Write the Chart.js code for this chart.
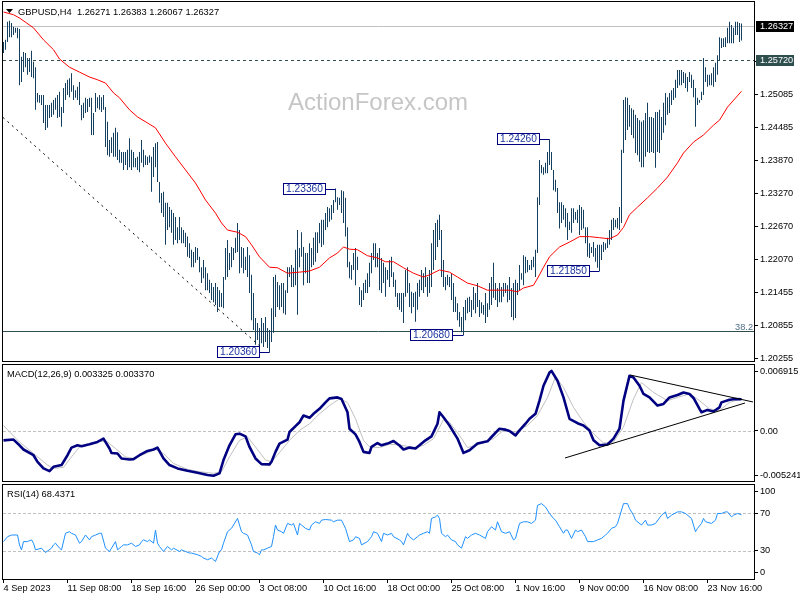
<!DOCTYPE html>
<html><head><meta charset="utf-8">
<script src="https://cdn.jsdelivr.net/npm/chart.js@4.4.0/dist/chart.umd.min.js"></script>
<style>
html,body{margin:0;padding:0;background:#fff;}
#wrap{position:relative;width:800px;height:600px;overflow:hidden;background:#fff;}
canvas{position:absolute;left:0;top:0;}
</style></head><body>
<div id="wrap">
<canvas id="c1" width="800" height="600"></canvas>
<canvas id="c2" width="800" height="600"></canvas>
<canvas id="c3" width="800" height="600"></canvas>
</div>
<script>
// ---------------- DATA ----------------
const symbolTitle = 'GBPUSD,H4  1.26271 1.26383 1.26067 1.26327';
const macdTitle = 'MACD(12,26,9) 0.003325 0.003370';
const rsiTitle = 'RSI(14) 68.4371';
const watermark = 'ActionForex.com';

const barHigh = [1.2604,1.2608,1.2641,1.2643,1.2639,1.2632,1.2630,1.2630,1.2628,1.2577,
1.2586,1.2584,1.2575,1.2575,1.2588,1.2568,1.2558,1.2511,1.2507,1.2507,
1.2507,1.2489,1.2489,1.2489,1.2493,1.2498,1.2502,1.2507,1.2513,1.2485,
1.2520,1.2529,1.2535,1.2538,1.2547,1.2525,1.2516,1.2522,1.2531,1.2489,
1.2493,1.2502,1.2500,1.2502,1.2502,1.2474,1.2511,1.2503,1.2507,1.2503,
1.2507,1.2485,1.2458,1.2425,1.2430,1.2438,1.2447,1.2439,1.2407,1.2403,
1.2403,1.2403,1.2407,1.2428,1.2407,1.2403,1.2392,1.2394,1.2403,1.2425,
1.2407,1.2397,1.2394,1.2397,1.2394,1.2412,1.2419,1.2421,1.2348,1.2328,
1.2330,1.2310,1.2310,1.2302,1.2297,1.2291,1.2284,1.2265,1.2284,1.2265,
1.2260,1.2255,1.2248,1.2236,1.2224,1.2220,1.2229,1.2227,1.2211,1.2192,
1.2205,1.2192,1.2181,1.2169,1.2163,1.2156,1.2163,1.2156,1.2150,1.2145,
1.2174,1.2227,1.2242,1.2218,1.2229,1.2227,1.2246,1.2273,1.2260,1.2229,
1.2227,1.2211,1.2229,1.2214,1.2178,1.2145,1.2099,1.2090,1.2081,1.2099,
1.2090,1.2101,1.2081,1.2077,1.2117,1.2174,1.2178,1.2165,1.2159,1.2163,
1.2163,1.2150,1.2192,1.2192,1.2196,1.2191,1.2224,1.2260,1.2227,1.2256,
1.2229,1.2218,1.2218,1.2236,1.2227,1.2246,1.2256,1.2256,1.2273,1.2279,
1.2279,1.2291,1.2302,1.2300,1.2306,1.2315,1.2336,1.2320,1.2319,1.2333,
1.2331,1.2319,1.2265,1.2202,1.2196,1.2218,1.2227,1.2211,1.2156,1.2150,
1.2163,1.2169,1.2181,1.2200,1.2218,1.2236,1.2236,1.2218,1.2227,1.2209,
1.2200,1.2192,1.2187,1.2205,1.2211,1.2183,1.2169,1.2145,1.2145,1.2145,
1.2145,1.2187,1.2192,1.2163,1.2147,1.2145,1.2147,1.2163,1.2169,1.2187,
1.2181,1.2192,1.2174,1.2187,1.2236,1.2260,1.2273,1.2279,1.2288,1.2260,
1.2205,1.2174,1.2178,1.2174,1.2181,1.2163,1.2138,1.2126,1.2110,1.2101,
1.2119,1.2132,1.2136,1.2138,1.2132,1.2156,1.2145,1.2163,1.2132,1.2128,
1.2123,1.2145,1.2126,1.2163,1.2174,1.2200,1.2163,1.2154,1.2163,1.2156,
1.2163,1.2163,1.2159,1.2174,1.2154,1.2163,1.2169,1.2163,1.2196,1.2181,
1.2214,1.2211,1.2205,1.2196,1.2205,1.2211,1.2224,1.2320,1.2388,1.2379,
1.2375,1.2383,1.2403,1.2426,1.2403,1.2370,1.2352,1.2337,1.2311,1.2311,
1.2306,1.2300,1.2291,1.2275,1.2300,1.2300,1.2293,1.2297,1.2306,1.2302,
1.2297,1.2265,1.2265,1.2236,1.2229,1.2238,1.2227,1.2233,1.2233,1.2233,
1.2238,1.2236,1.2246,1.2260,1.2279,1.2282,1.2279,1.2282,1.2302,1.2407,
1.2498,1.2503,1.2502,1.2489,1.2483,1.2480,1.2471,1.2465,1.2461,1.2458,
1.2461,1.2474,1.2493,1.2467,1.2467,1.2465,1.2476,1.2476,1.2480,1.2467,
1.2493,1.2511,1.2503,1.2511,1.2516,1.2520,1.2535,1.2553,1.2553,1.2553,
1.2549,1.2547,1.2540,1.2549,1.2544,1.2535,1.2520,1.2502,1.2498,1.2513,
1.2575,1.2558,1.2544,1.2544,1.2547,1.2558,1.2566,1.2580,1.2613,1.2611,
1.2611,1.2613,1.2630,1.2641,1.2635,1.2630,1.2641,1.2641,1.2639,1.2638];

const barLow = [1.2584,1.2590,1.2604,1.2613,1.2613,1.2617,1.2621,1.2611,1.2525,1.2531,
1.2549,1.2558,1.2544,1.2549,1.2540,1.2538,1.2480,1.2494,1.2493,1.2489,
1.2456,1.2443,1.2447,1.2465,1.2467,1.2471,1.2480,1.2465,1.2467,1.2449,
1.2474,1.2498,1.2507,1.2503,1.2513,1.2498,1.2502,1.2498,1.2489,1.2461,
1.2465,1.2474,1.2476,1.2485,1.2434,1.2434,1.2476,1.2483,1.2480,1.2476,
1.2480,1.2412,1.2397,1.2394,1.2401,1.2394,1.2394,1.2388,1.2383,1.2383,
1.2370,1.2379,1.2370,1.2375,1.2370,1.2375,1.2375,1.2370,1.2366,1.2383,
1.2375,1.2379,1.2379,1.2383,1.2330,1.2357,1.2375,1.2348,1.2310,1.2291,
1.2284,1.2233,1.2260,1.2265,1.2255,1.2233,1.2242,1.2236,1.2242,1.2236,
1.2236,1.2229,1.2211,1.2209,1.2192,1.2192,1.2200,1.2205,1.2183,1.2163,
1.2172,1.2150,1.2150,1.2145,1.2132,1.2128,1.2123,1.2110,1.2119,1.2119,
1.2117,1.2169,1.2174,1.2187,1.2192,1.2205,1.2218,1.2220,1.2181,1.2191,
1.2181,1.2187,1.2174,1.2145,1.2095,1.2077,1.2050,1.2059,1.2044,1.2053,
1.2046,1.2055,1.2044,1.2036,1.2055,1.2072,1.2101,1.2119,1.2114,1.2119,
1.2108,1.2105,1.2145,1.2174,1.2156,1.2156,1.2159,1.2105,1.2192,1.2211,
1.2159,1.2181,1.2163,1.2163,1.2192,1.2196,1.2202,1.2218,1.2236,1.2229,
1.2233,1.2260,1.2265,1.2275,1.2279,1.2291,1.2311,1.2297,1.2306,1.2291,
1.2273,1.2248,1.2192,1.2172,1.2169,1.2187,1.2159,1.2187,1.2123,1.2119,
1.2132,1.2145,1.2145,1.2156,1.2181,1.2205,1.2192,1.2192,1.2150,1.2145,
1.2163,1.2138,1.2169,1.2156,1.2174,1.2156,1.2138,1.2119,1.2114,1.2110,
1.2090,1.2138,1.2145,1.2119,1.2108,1.2119,1.2092,1.2114,1.2138,1.2150,
1.2145,1.2156,1.2138,1.2145,1.2156,1.2187,1.2205,1.2229,1.2242,1.2174,
1.2156,1.2150,1.2159,1.2156,1.2132,1.2110,1.2110,1.2095,1.2083,1.2073,
1.2068,1.2095,1.2108,1.2110,1.2101,1.2114,1.2108,1.2119,1.2101,1.2108,
1.2105,1.2090,1.2101,1.2114,1.2123,1.2136,1.2132,1.2119,1.2128,1.2128,
1.2138,1.2145,1.2128,1.2132,1.2101,1.2095,1.2099,1.2141,1.2150,1.2169,
1.2159,1.2181,1.2183,1.2187,1.2187,1.2192,1.2174,1.2218,1.2306,1.2364,
1.2361,1.2364,1.2364,1.2379,1.2370,1.2333,1.2330,1.2291,1.2263,1.2273,
1.2279,1.2265,1.2242,1.2260,1.2255,1.2273,1.2279,1.2273,1.2251,1.2260,
1.2263,1.2236,1.2211,1.2209,1.2218,1.2211,1.2202,1.2191,1.2185,1.2205,
1.2220,1.2224,1.2227,1.2233,1.2242,1.2260,1.2265,1.2263,1.2260,1.2273,
1.2401,1.2425,1.2443,1.2449,1.2434,1.2428,1.2401,1.2397,1.2385,1.2375,
1.2375,1.2394,1.2403,1.2401,1.2403,1.2401,1.2374,1.2403,1.2401,1.2425,
1.2438,1.2452,1.2471,1.2474,1.2489,1.2498,1.2502,1.2520,1.2525,1.2525,
1.2529,1.2520,1.2513,1.2531,1.2520,1.2503,1.2449,1.2489,1.2493,1.2498,
1.2507,1.2531,1.2522,1.2525,1.2525,1.2522,1.2531,1.2544,1.2571,1.2593,
1.2595,1.2595,1.2602,1.2602,1.2602,1.2602,1.2617,1.2617,1.2604,1.2607];

// moving average (red), sampled at bar indices
const maIdx = [0,5,8,15,20,25,28,33,38,43,47,51,55,58,63,67,72,76,81,86,91,96,101,106,109,112,117,121,124,128,133,137,142,148,153,158,163,167,170,173,177,182,187,191,195,200,205,210,213,218,223,227,232,237,242,248,253,257,260,265,268,270,273,278,283,288,293,298,303,307,310,313,317,322,327,332,337,340,345,350,355,358,362,369];
const maVal = [1.2659,1.2654,1.2648,1.2630,1.2608,1.2590,1.2573,1.2558,1.2549,1.2540,1.2535,1.2529,1.2511,1.2502,1.2480,1.2467,1.2456,1.2447,1.2419,1.2394,1.2370,1.2346,1.2315,1.2291,1.2273,1.2260,1.2256,1.2248,1.2233,1.2211,1.2192,1.2191,1.2181,1.2183,1.2185,1.2192,1.2209,1.2218,1.2229,1.2225,1.2224,1.2213,1.2209,1.2202,1.2202,1.2191,1.2181,1.2174,1.2178,1.2187,1.2183,1.2174,1.2163,1.2158,1.2150,1.2150,1.2150,1.2147,1.2154,1.2159,1.2178,1.2192,1.2211,1.2229,1.2238,1.2248,1.2248,1.2246,1.2244,1.2251,1.2265,1.2288,1.2302,1.2319,1.2337,1.2357,1.2383,1.2401,1.2421,1.2434,1.2452,1.2461,1.2485,1.2514];

// dashed down trendline (bar index, price)
const trendIdx = [-0.25, 129];
const trendVal = [1.2466, 1.2045];

// horizontal levels
const lastClose = 1.26327;
const resistanceLevel = 1.25720;
const fibLevel = 1.2075;
const fibText = '38.2';

// swing labels
const swingIdx = [166, 273, 133, 230, 298];
const swingPrice = [1.2336, 1.2426, 1.2036, 1.2068, 1.2185];

// price axis tick labels
const priceTicks = [1.20255,1.20855,1.21455,1.22070,1.22670,1.23270,1.23870,1.24485,1.25085,1.25685];

// MACD main line and signal
const macdIdx = [0,5,8,10,15,17,20,23,25,29,32,34,37,39,43,47,50,53,54,57,59,63,65,68,72,75,77,80,83,87,92,97,102,105,108,110,113,116,118,121,123,126,129,133,134,136,138,142,143,146,148,150,153,155,158,161,163,167,169,172,173,176,178,180,183,184,187,189,192,195,198,200,203,206,208,211,214,217,218,220,223,227,230,233,237,242,244,248,251,253,256,258,261,263,266,268,270,273,274,277,280,283,287,290,293,295,298,302,305,308,310,313,315,318,320,323,327,330,333,337,340,343,345,348,349,352,355,358,359,363,366,369];
const macdVal = [-0.00098,-0.00090,-0.00150,-0.00194,-0.00254,-0.00323,-0.00392,-0.00420,-0.00375,-0.00357,-0.00254,-0.00174,-0.00150,-0.00160,-0.00139,-0.00115,-0.00080,-0.00184,-0.00230,-0.00236,-0.00288,-0.00298,-0.00295,-0.00254,-0.00209,-0.00194,-0.00174,-0.00288,-0.00357,-0.00392,-0.00417,-0.00437,-0.00461,-0.00469,-0.00444,-0.00305,-0.00150,-0.00035,-0.00028,-0.00056,-0.00167,-0.00288,-0.00347,-0.00350,-0.00323,-0.00219,-0.00132,-0.00090,-0.00011,0.00051,0.00092,0.00162,0.00138,0.00180,0.00232,0.00300,0.00342,0.00352,0.00336,0.00196,0.00024,-0.00035,-0.00115,-0.00219,-0.00230,-0.00167,-0.00126,-0.00150,-0.00132,-0.00105,-0.00152,-0.00194,-0.00174,-0.00184,-0.00150,-0.00098,-0.00056,0.00076,0.00196,0.00144,0.00058,-0.00080,-0.00230,-0.00202,-0.00132,-0.00108,-0.00063,0.00024,0.00014,0.00000,-0.00046,0.00006,0.00076,0.00128,0.00180,0.00318,0.00474,0.00612,0.00630,0.00526,0.00352,0.00128,0.00082,0.00058,0.00006,-0.00098,-0.00150,-0.00142,-0.00080,0.00024,0.00318,0.00578,0.00560,0.00474,0.00388,0.00352,0.00266,0.00284,0.00352,0.00377,0.00404,0.00388,0.00346,0.00232,0.00196,0.00221,0.00204,0.00248,0.00300,0.00328,0.00336,0.003325];
const sigIdx = [0,3,8,15,22,25,30,34,38,43,48,52,56,61,65,70,76,80,85,92,98,105,109,113,118,122,126,131,134,139,143,148,153,158,163,168,172,176,180,183,188,193,198,205,210,215,220,223,228,232,238,245,250,256,262,267,272,276,280,285,290,295,300,305,310,315,319,325,332,337,343,348,353,358,363,369];
const sigVal = [0.00059,-0.00010,-0.00115,-0.00236,-0.00357,-0.00392,-0.00381,-0.00271,-0.00167,-0.00139,-0.00108,-0.00115,-0.00184,-0.00271,-0.00288,-0.00246,-0.00194,-0.00236,-0.00340,-0.00402,-0.00427,-0.00444,-0.00427,-0.00271,-0.00098,-0.00063,-0.00167,-0.00305,-0.00323,-0.00202,-0.00098,0.00006,0.00076,0.00180,0.00266,0.00336,0.00300,0.00128,-0.00098,-0.00167,-0.00174,-0.00139,-0.00146,-0.00174,-0.00150,-0.00080,0.00117,0.00092,-0.00046,-0.00174,-0.00139,-0.00080,0.00006,-0.00010,0.00058,0.00162,0.00352,0.00567,0.00456,0.00248,0.00092,-0.00028,-0.00126,-0.00115,0.00041,0.00336,0.00508,0.00404,0.00318,0.00352,0.00388,0.00318,0.00232,0.00214,0.00300,0.00337];
const macdMax = 0.006915, macdMin = -0.005241;
// MACD triangle trendlines
const triUpperIdx = [313.25, 374.75], triUpperVal = [0.00587, 0.00304];
const triLowerIdx = [280.75, 370.75], triLowerVal = [-0.00283, 0.00293];

// RSI(14)
const rsiIdx = [0,2,4,7,8,9,10,12,14,15,16,19,21,24,25,26,28,29,31,33,34,36,38,39,41,43,44,46,48,49,51,53,54,56,57,59,60,62,64,66,68,69,70,72,73,75,76,77,78,80,82,84,85,88,89,91,93,94,97,99,100,102,104,105,106,108,109,110,112,114,117,118,119,120,122,124,125,127,128,129,130,132,134,135,136,137,139,140,142,144,145,147,148,149,151,153,154,156,158,159,161,164,165,167,169,171,173,175,176,178,179,182,184,185,187,189,190,192,194,195,198,199,200,202,203,205,207,208,210,212,213,214,216,217,218,219,221,222,224,226,227,229,231,232,234,236,238,241,242,244,246,247,249,251,253,255,256,258,260,262,264,266,267,269,271,273,275,276,278,280,281,282,284,286,287,289,291,292,295,297,299,301,302,304,306,307,308,310,312,313,315,316,319,321,322,324,326,329,331,332,334,337,339,341,344,346,347,349,350,351,354,356,357,359,361,362,364,365,367,369];
const rsiVal = [39.8,45,46.8,46.8,36.3,31,39.8,39.8,41.6,38.1,31,32.8,28.2,32.8,36.3,38.1,32.8,31,48.6,50.3,48.6,46.8,38.1,39.8,46.8,41.6,45,46.8,48.6,48.6,32.8,29.3,32.8,39.8,31,34.6,36.3,36.3,38.1,34.6,36.3,39.8,41.6,39.8,41.6,38.1,52.1,38.1,34.6,29.3,34.6,31,32.8,29.3,31,29.3,27.6,27.6,25.8,24,22.3,20.5,22.3,20.5,18.7,29.3,31,38.1,50.3,53.9,64.4,57.4,50.3,48.6,46.8,36.3,29.3,27.6,25.8,31,31,32.8,34.6,45,57.4,52.1,50.3,48.6,59.1,57.4,59.1,46.8,59.1,57.4,53.9,52.1,57.4,60.9,59.1,62.6,63.3,62.6,60.9,62.6,62.6,53.9,39.8,41.6,45,43.2,36.3,39.8,45,50.3,48.6,39.8,48.6,46.8,48.6,45,41.6,39.8,36.3,48.6,45,41.6,45,46.8,48.6,50.3,48.6,64.4,66.1,67.9,64.4,48.6,45,46.8,41.6,39.8,36.3,32.8,45,43.2,46.8,48.6,46.8,43.2,50.3,55.6,52.1,60.9,50.3,48.6,50.3,41.6,43.2,59.1,60.9,60.9,59.1,62.6,78.4,80.2,76.6,69.7,64.4,62.6,55.6,48.6,52.1,52.1,43.2,52.1,50.3,52.1,45,39.8,39.8,41.6,43.2,46.8,48.6,53.9,55.6,59.1,66.1,80.2,80.2,74.9,67.9,62.6,57.4,62.6,57.4,57.4,59.1,67.9,71.4,64.4,67.9,71.4,71.4,69.7,64.4,50.3,53.9,59.1,64.4,60.9,59.1,62.6,69.7,69.7,71.4,71.4,66.1,67.9,69.7,68.4];
const rsiLevels = [70, 30];

// time axis
const timeTickIdx = [0,32,64,96,128,160,192,224,256,288,320,352];
const timeLabels = ['4 Sep 2023','11 Sep 08:00','18 Sep 16:00','26 Sep 00:00','3 Oct 08:00','10 Oct 16:00','18 Oct 00:00','25 Oct 08:00','1 Nov 16:00','9 Nov 00:00','16 Nov 08:00','23 Nov 16:00'];

// ---------------- RENDERING ----------------
const FAMILY = '"Liberation Sans", Arial, sans-serif';
const AXFONT = { family: FAMILY, size: 9.2 };
const X_MIN = -0.25, X_MAX = 375.25;
Chart.defaults.font.family = FAMILY;
Chart.defaults.font.size = 9.2;
Chart.defaults.color = '#000';

const pts = (xs, ys) => xs.map((v, k) => ({ x: v, y: ys[k] }));

function zeroPad(s) { s.paddingTop = 0; s.paddingBottom = 0; s.paddingLeft = 0; s.paddingRight = 0; }

function xAxis(display) {
  const ax = { type: 'linear', min: X_MIN, max: X_MAX, display, offset: false,
    grid: { display: display, drawOnChartArea: false, drawTicks: true, tickLength: 4, color: '#000', offset: false },
    border: { display: false },
    afterFit: s => { zeroPad(s); if (display) s.height = 21; } };
  if (display) {
    ax.afterBuildTicks = s => { s.ticks = timeTickIdx.map(v => ({ value: v })); };
    ax.ticks = { autoSkip: false, maxRotation: 0, minRotation: 0, align: 'start', padding: 0, font: AXFONT, color: '#000',
      callback: v => timeLabels[timeTickIdx.indexOf(v)] };
  }
  return ax;
}
function yAxis(min, max, buildTicks, labelFn) {
  return { type: 'linear', position: 'right', min, max,
    afterBuildTicks: s => { s.ticks = buildTicks(s).map(v => ({ value: v })); },
    afterFit: s => { s.width = 46; zeroPad(s); },
    ticks: { autoSkip: false, padding: 2, font: AXFONT, color: '#000', callback: labelFn },
    grid: { drawOnChartArea: false, drawTicks: true, tickLength: 4, color: '#000' },
    border: { display: false } };
}
function frame(chart) {
  const { ctx, chartArea: a } = chart;
  ctx.save(); ctx.strokeStyle = '#000'; ctx.lineWidth = 1; ctx.setLineDash([]);
  ctx.strokeRect(a.left - 0.5, a.top - 0.5, a.right - a.left + 1, a.bottom - a.top + 1);
  ctx.restore();
}
function hline(chart, value, color, dash) {
  const { ctx, chartArea: a, scales: { y } } = chart;
  const py = Math.round(y.getPixelForValue(value)) + 0.5;
  ctx.save(); ctx.strokeStyle = color; ctx.lineWidth = 1; ctx.setLineDash(dash);
  ctx.beginPath(); ctx.moveTo(a.left, py); ctx.lineTo(a.right, py); ctx.stroke(); ctx.restore();
}
function panelTitle(chart, text, yBase) {
  const { ctx } = chart;
  ctx.save(); ctx.font = '9.3px ' + FAMILY; ctx.fillStyle = '#000'; ctx.textAlign = 'left'; ctx.textBaseline = 'alphabetic';
  ctx.fillText(text, 7, yBase); ctx.restore();
}
const baseOpts = { responsive: false, animation: false, devicePixelRatio: 1, events: [],
  plugins: { legend: { display: false }, tooltip: { enabled: false }, title: { display: false } } };

// ---- main price panel ----
const mainDecor = {
  id: 'mainDecor',
  beforeDatasetsDraw(chart) {
    const { ctx, chartArea: a, scales: { y } } = chart;
    ctx.save();
    ctx.font = '24px ' + FAMILY; ctx.fillStyle = '#c6c6c6'; ctx.textAlign = 'left'; ctx.textBaseline = 'alphabetic';
    ctx.fillText(watermark, 288, 110);
    ctx.restore();
    hline(chart, lastClose, '#c0c0c0', []);
    hline(chart, resistanceLevel, '#2f4f4f', [3, 3]);
    hline(chart, fibLevel, '#2f4f4f', []);
    ctx.save();
    ctx.font = '9.2px ' + FAMILY; ctx.fillStyle = '#4d6b88'; ctx.textAlign = 'right'; ctx.textBaseline = 'alphabetic';
    ctx.fillText(fibText, a.right - 1, Math.round(y.getPixelForValue(fibLevel)) - 1.5);
    ctx.restore();
  },
  afterDatasetsDraw(chart) {
    const { ctx, scales: { x, y } } = chart;
    ctx.save();
    ctx.font = '10.2px ' + FAMILY; ctx.textAlign = 'center'; ctx.textBaseline = 'middle'; ctx.lineWidth = 1; ctx.setLineDash([]);
    swingIdx.forEach((idx, k) => {
      const px = x.getPixelForValue(idx);
      const py = y.getPixelForValue(swingPrice[k]);
      const right = Math.round(px - 10), w = 43, h = 12, left = right - w, top = Math.round(py - 6);
      ctx.fillStyle = '#fff'; ctx.fillRect(left, top, w, h);
      ctx.strokeStyle = '#000080'; ctx.strokeRect(left + 0.5, top + 0.5, w - 1, h - 1);
      ctx.beginPath(); ctx.moveTo(right, Math.round(py) + 0.5); ctx.lineTo(Math.floor(px) + 0.5, Math.round(py) + 0.5); ctx.stroke();
      ctx.fillStyle = '#1d35a0'; ctx.fillText(swingPrice[k].toFixed(5), left + w / 2, top + h / 2 + 0.5);
    });
    ctx.restore();
  },
  afterDraw(chart) {
    const { ctx, scales: { y } } = chart;
    frame(chart);
    // title
    ctx.save();
    ctx.fillStyle = '#000';
    ctx.beginPath(); ctx.moveTo(6, 9); ctx.lineTo(13, 9); ctx.lineTo(9.5, 13); ctx.closePath(); ctx.fill();
    ctx.font = '9.3px ' + FAMILY; ctx.textAlign = 'left'; ctx.textBaseline = 'alphabetic';
    ctx.fillText(symbolTitle, 18, 14.5);
    // highlighted axis labels
    const boxes = [[lastClose, '#000000'], [resistanceLevel, '#2f4f4f']];
    ctx.font = '9.2px ' + FAMILY; ctx.textBaseline = 'middle';
    boxes.forEach(([v, c]) => {
      const py = Math.round(y.getPixelForValue(v));
      ctx.fillStyle = c; ctx.fillRect(756, py - 5, 38, 11);
      ctx.fillStyle = '#fff'; ctx.fillText(v.toFixed(5), 760, py + 0.5);
    });
    ctx.restore();
  }
};

new Chart(document.getElementById('c1'), {
  type: 'bar',
  data: { datasets: [
    { type: 'line', data: pts(maIdx, maVal), borderColor: '#ff0000', borderWidth: 1, pointRadius: 0, tension: 0, order: 1 },
    { type: 'line', data: pts(trendIdx, trendVal), borderColor: '#000', borderWidth: 1, borderDash: [2, 4], pointRadius: 0, order: 2 },
    { type: 'bar', data: barHigh.map((h, i) => ({ x: i, y: [barLow[i], h] })), backgroundColor: '#143f5e',
      barThickness: 1, borderWidth: 0, inflateAmount: 0, order: 3 }
  ] },
  options: Object.assign({}, baseOpts, {
    layout: { padding: { left: 3, right: 0, top: 2, bottom: 239 } },
    scales: {
      x: xAxis(false),
      y: yAxis(1.20204, 1.26773, () => priceTicks, v => v.toFixed(5))
    }
  }),
  plugins: [mainDecor]
});

// ---- MACD panel ----
const macdDecor = {
  id: 'macdDecor',
  beforeDatasetsDraw(chart) { hline(chart, 0, '#c0c0c0', [3, 2]); },
  afterDraw(chart) { frame(chart); panelTitle(chart, macdTitle, 376.5); }
};
new Chart(document.getElementById('c2'), {
  type: 'line',
  data: { datasets: [
    { data: pts(triUpperIdx, triUpperVal), borderColor: '#000', borderWidth: 1, pointRadius: 0, order: 0 },
    { data: pts(triLowerIdx, triLowerVal), borderColor: '#000', borderWidth: 1, pointRadius: 0, order: 0 },
    { data: pts(macdIdx, macdVal), borderColor: '#000080', borderWidth: 2.6, pointRadius: 0, tension: 0, borderJoinStyle: 'round', order: 1 },
    { data: pts(sigIdx, sigVal), borderColor: '#c0c0c0', borderWidth: 1, pointRadius: 0, tension: 0, order: 2 }
  ] },
  options: Object.assign({}, baseOpts, {
    layout: { padding: { left: 3, right: 0, top: 365, bottom: 119 } },
    scales: {
      x: xAxis(false),
      y: yAxis(macdMin, macdMax,
        s => { const k = (s.max - s.min) * 6 / 116; return [s.max - k, 0, s.min + k]; },
        (v, i) => [macdMax.toFixed(6), '0.00', macdMin.toFixed(6)][i])
    }
  }),
  plugins: [macdDecor]
});

// ---- RSI panel ----
const rsiDecor = {
  id: 'rsiDecor',
  beforeDatasetsDraw(chart) { rsiLevels.forEach(l => hline(chart, l, '#c0c0c0', [3, 2])); },
  afterDraw(chart) { frame(chart); panelTitle(chart, rsiTitle, 497); }
};
new Chart(document.getElementById('c3'), {
  type: 'line',
  data: { datasets: [
    { data: pts(rsiIdx, rsiVal), borderColor: '#1e90ff', borderWidth: 1, pointRadius: 0, tension: 0 }
  ] },
  options: Object.assign({}, baseOpts, {
    layout: { padding: { left: 3, right: 0, top: 485, bottom: 0 } },
    scales: {
      x: xAxis(true),
      y: yAxis(0, 100, () => [92.6, 70, 30, 7.4], (v, i) => ['100', '70', '30', '0'][i])
    }
  }),
  plugins: [rsiDecor]
});
</script>
</body></html>
